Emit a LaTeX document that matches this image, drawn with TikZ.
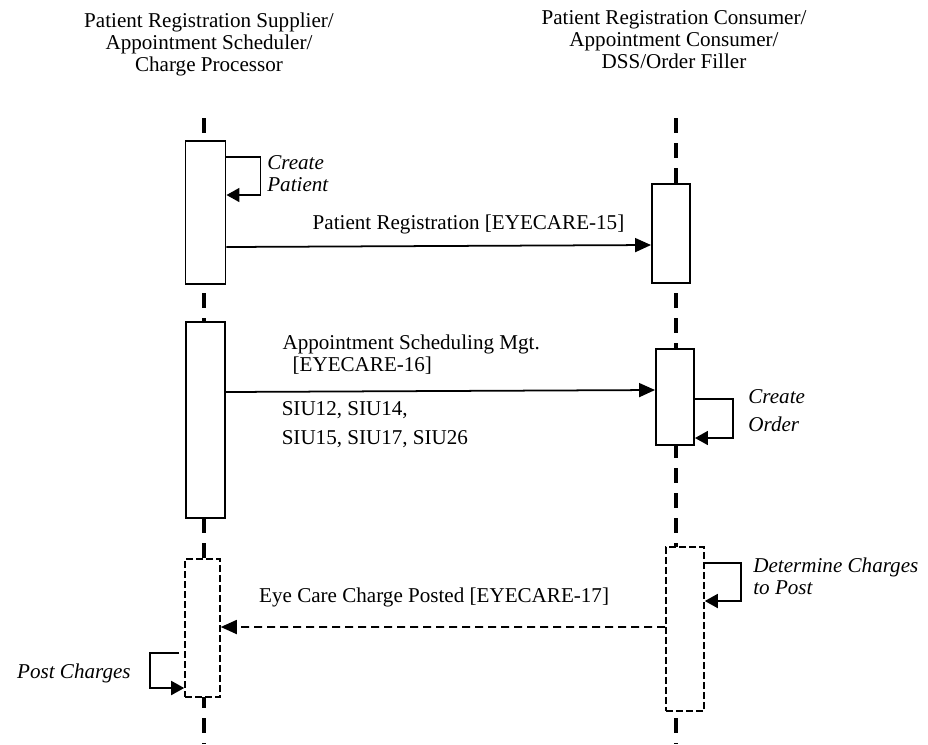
\documentclass[tikz,border=0pt]{standalone}
\usepackage{fontspec}
\setmainfont{Liberation Serif}
\usetikzlibrary{arrows.meta}

\begin{document}
\begin{tikzpicture}[
		font=\fontsize{12}{12.5}\selectfont,
		actor/.style={align=center, anchor=north, inner sep=0pt},
		lifeline/.style={line width=2pt, dash pattern=on 0.3cm off 0.2cm},
		activation/.style={draw, fill=white, line width=1.1pt, inner sep=0pt, minimum width=0.78cm},
		pending/.style={activation, line width=0.9pt, dash pattern=on 0.14cm off 0.06cm},
		msg/.style={-{Triangle[length=0.32cm, width=0.28cm]}, line width=1pt},
		reply/.style={msg, dash pattern=on 0.16cm off 0.1cm},
		selfcall/.style={-{Triangle[length=0.26cm, width=0.28cm]}, line width=1pt},
		msglabel/.style={inner sep=0pt, align=left},
		note/.style={align=left, font=\fontsize{12}{12.5}\selectfont\itshape, inner sep=0pt}
	]
		\useasboundingbox (0,0) rectangle (18.56,-14.88);
		\node[actor] (supplier) at (4.18,-0.26) {Patient Registration Supplier/\\Appointment Scheduler/\\Charge Processor};
		\node[actor] (consumer) at (13.48,-0.2) {Patient Registration Consumer/\\Appointment Consumer/\\DSS/Order Filler};
		\coordinate (supplierTop) at (4.08,-2.36);
		\coordinate (supplierEnd) at (4.08,-14.88);
		\coordinate (consumerTop) at (13.52,-2.36);
		\coordinate (consumerEnd) at (13.52,-14.88);
		\draw[lifeline] (supplierTop) -- (supplierEnd);
		\draw[lifeline] (consumerTop) -- (consumerEnd);
		\node[activation, minimum width=0.8cm, minimum height=2.86cm] (regL) at (4.11,-4.25) {};
		\node[activation, minimum height=3.92cm] (schedL) at (4.11,-8.40) {};
		\node[pending, minimum width=0.7cm, minimum height=2.76cm] (chargeL) at (4.05,-12.56) {};
		\node[activation, minimum width=0.76cm, minimum height=1.98cm] (regR) at (13.42,-4.67) {};
		\node[activation, minimum width=0.76cm, minimum height=1.92cm] (schedR) at (13.50,-7.94) {};
		\node[pending, minimum width=0.76cm, minimum height=3.28cm] (chargeR) at (13.70,-12.58) {};
		\draw[selfcall] ([yshift=1.11cm]regL.east) -- ++(0.68,0) |- ([yshift=0.35cm]regL.east);
		\node[note, anchor=west] (createPatient) at (5.34,-3.48) {Create\\Patient};
		\draw[msg] ([yshift=-0.69cm]regL.east) -- node[msglabel, pos=0.57, above=0.22cm]{Patient Registration [EYECARE-15]} ([yshift=-0.23cm]regR.west);
		\draw[msg] ([yshift=0.56cm]schedL.east) --
			node[msglabel, pos=0.13, anchor=south west, yshift=0.34cm]{Appointment Scheduling Mgt.\\\hspace*{0.2cm}[EYECARE-16]}
			node[msglabel, pos=0.128, anchor=north west, yshift=-0.18cm]{SIU12, SIU14,\\[4pt]SIU15, SIU17, SIU26}
			([yshift=0.14cm]schedR.west);
		\draw[selfcall] ([yshift=-0.04cm]schedR.east) -- ++(0.76,0) |- ([yshift=-0.82cm]schedR.east);
		\node[note, anchor=west] (createOrder) at (14.96,-8.22) {Create\\[3.4pt]Order};
		\draw[selfcall] ([yshift=1.32cm]chargeR.east) -- ++(0.72,0) |- ([yshift=0.56cm]chargeR.east);
		\node[note, anchor=west] (determineCharges) at (15.06,-11.52) {Determine Charges\\to Post};
		\draw[reply] ([yshift=0.04cm]chargeR.west) -- node[msglabel, pos=0.52, above=0.38cm]{Eye Care Charge Posted [EYECARE-17]} ([yshift=0.02cm]chargeL.east);
		\draw[selfcall] ([xshift=-0.1cm, yshift=-0.5cm]chargeL.west) -- ++(-0.58,0) |- ([yshift=-1.2cm]chargeL.west);
		\node[note, anchor=east] (postCharges) at (2.62,-13.46) {Post Charges};
	\end{tikzpicture}
\end{document}
